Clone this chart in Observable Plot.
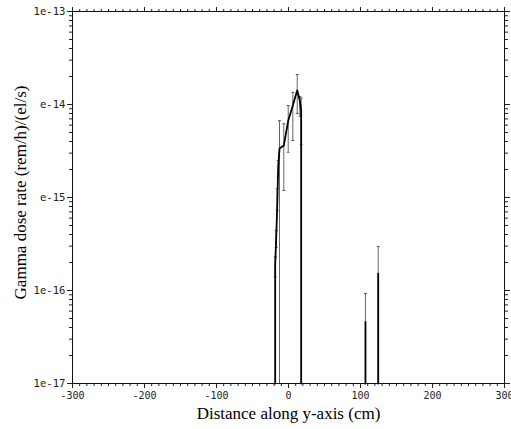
<!DOCTYPE html>
<html>
<head>
<meta charset="utf-8">
<script src="https://cdn.jsdelivr.net/npm/d3@7"></script>
<script src="https://cdn.jsdelivr.net/npm/@observablehq/plot@0.6"></script>
<style>
  body { margin: 0; background: white; }
  .serif-title text { font-family: "Liberation Serif", "Times New Roman", serif; }
</style>
</head>
<body>
<div id="chart"></div>
<script>
// ---- data ----
const distance = [-18.5, -18.5, -17.1, -15.7, -14.3, -12.5, -6.5, -0.4, 6.0, 12.1, 15.7, 17.6, 17.6,
                  106.9, 106.9, 106.9,
                  124.6, 124.6, 124.6];
const dose = [0, 1.86e-16, 3.7e-16, 7.8e-16, 2.1e-15, 3.37e-15, 3.62e-15, 6.7e-15, 9.75e-15, 1.42e-14, 1.1e-14, 8.6e-15, 0,
              0, 4.6e-17, 0,
              0, 1.52e-16, 0];
const part = ["a","a","a","a","a","a","a","a","a","a","a","a","a",
              "b","b","b",
              "c","c","c"];

const errDistance = [-18.5, -17.1, -15.7, -14.3, -12.5, -6.5, -0.4, 6.0, 12.1, 15.7, 17.6, 106.9, 124.6];
const errLow  = [1.4e-16, 2.9e-16, 7.2e-16, 1.7e-15, 0, 1.19e-15, 3.07e-15, 4.1e-15, 8.0e-15, 7.5e-15, 3.7e-15, 0, 0];
const errHigh = [2.3e-16, 4.4e-16, 1.25e-15, 2.5e-15, 6.7e-15, 6.2e-15, 9.75e-15, 1.35e-14, 2.1e-14, 1.22e-14, 1.17e-14, 9.3e-17, 2.97e-16];

const xTicks = [-300, -200, -100, 0, 100, 200, 300];
const xTickLabels = ["-300", "-200", "-100", "0", "100", "200", "300"];
const yTicks = [1e-17, 1e-16, 1e-15, 1e-14, 1e-13];
const yTickLabels = ["1e-17", "1e-16", "e-15", "e-14", "1e-13"];

const xTitle = "Distance along y-axis (cm)";
const yTitle = "Gamma dose rate (rem/h)/(el/s)";

// ---- tables built from the arrays ----
const yFloor = yTicks[0];
const series = distance.map((x, i) => ({x, v: Math.max(dose[i], yFloor), part: part[i]}));
const errs = errDistance.map((x, i) => ({x, lo: Math.max(errLow[i], yFloor), hi: errHigh[i], hasLo: errLow[i] > 0}));
const xMinor = d3.range(-300, 301, 10);
const yMinor = [];
for (let e = -17; e < -13; e++) for (let k = 2; k <= 9; k++) yMinor.push(k * Math.pow(10, e));

const tickFont = "DejaVu Sans Mono";
const titleFont = "Liberation Serif";
const blank = () => "";

const chart = Plot.plot({
  width: 511,
  height: 429,
  marginLeft: 72,
  marginRight: 7,
  marginTop: 11,
  marginBottom: 46,
  style: {background: "white", color: "#222"},
  x: {domain: [-300, 300]},
  y: {type: "log", domain: [1e-17, 1e-13]},
  marks: [
    // bottom axis
    Plot.axisX({anchor: "bottom", ticks: xMinor, tickSize: 3, tickFormat: blank, label: null}),
    Plot.axisX({anchor: "bottom", ticks: xTicks, tickSize: 5, tickPadding: 3,
      tickFormat: d => xTickLabels[xTicks.indexOf(d)], fontFamily: tickFont, fontSize: 10, label: null}),
    // top axis
    Plot.axisX({anchor: "top", ticks: xMinor, tickSize: 3, tickFormat: blank, label: null}),
    Plot.axisX({anchor: "top", ticks: xTicks, tickSize: 5, tickFormat: blank, label: null}),
    // left axis
    Plot.axisY({anchor: "left", ticks: yMinor, tickSize: 3, tickFormat: blank, label: null}),
    Plot.axisY({anchor: "left", ticks: yTicks, tickSize: 5, tickPadding: 2,
      tickFormat: d => yTickLabels[yTicks.indexOf(d)], fontFamily: tickFont, fontSize: 10.6, label: null}),
    // right axis
    Plot.axisY({anchor: "right", ticks: yMinor, tickSize: 3, tickFormat: blank, label: null}),
    Plot.axisY({anchor: "right", ticks: yTicks, tickSize: 5, tickFormat: blank, label: null}),
    Plot.frame({stroke: "#111", strokeWidth: 1}),
    // error bars
    Plot.ruleX(errs, {x: "x", y1: "lo", y2: "hi", stroke: "#666", strokeWidth: 1}),
    Plot.link(errs, {x1: d => d.x - 2, x2: d => d.x + 2, y1: "hi", y2: "hi", stroke: "#555", strokeWidth: 1}),
    Plot.link(errs.filter(d => d.hasLo), {x1: d => d.x - 2, x2: d => d.x + 2, y1: "lo", y2: "lo", stroke: "#555", strokeWidth: 1}),
    // dose curve
    Plot.line(series, {x: "x", y: "v", z: "part", stroke: "#000", strokeWidth: 1.8, curve: "linear"}),
    // titles
    Plot.text([xTitle], {frameAnchor: "bottom", dy: 30, text: d => d, textAnchor: "middle", lineAnchor: "middle",
      fontFamily: titleFont, fontSize: 17, fill: "#000", className: "serif-title"}),
    Plot.text([yTitle], {frameAnchor: "left", dx: -52, dy: -5, rotate: -90, text: d => d, textAnchor: "middle", lineAnchor: "middle",
      fontFamily: titleFont, fontSize: 17, fill: "#000", className: "serif-title"})
  ]
});
document.getElementById("chart").appendChild(chart);
</script>
</body>
</html>
